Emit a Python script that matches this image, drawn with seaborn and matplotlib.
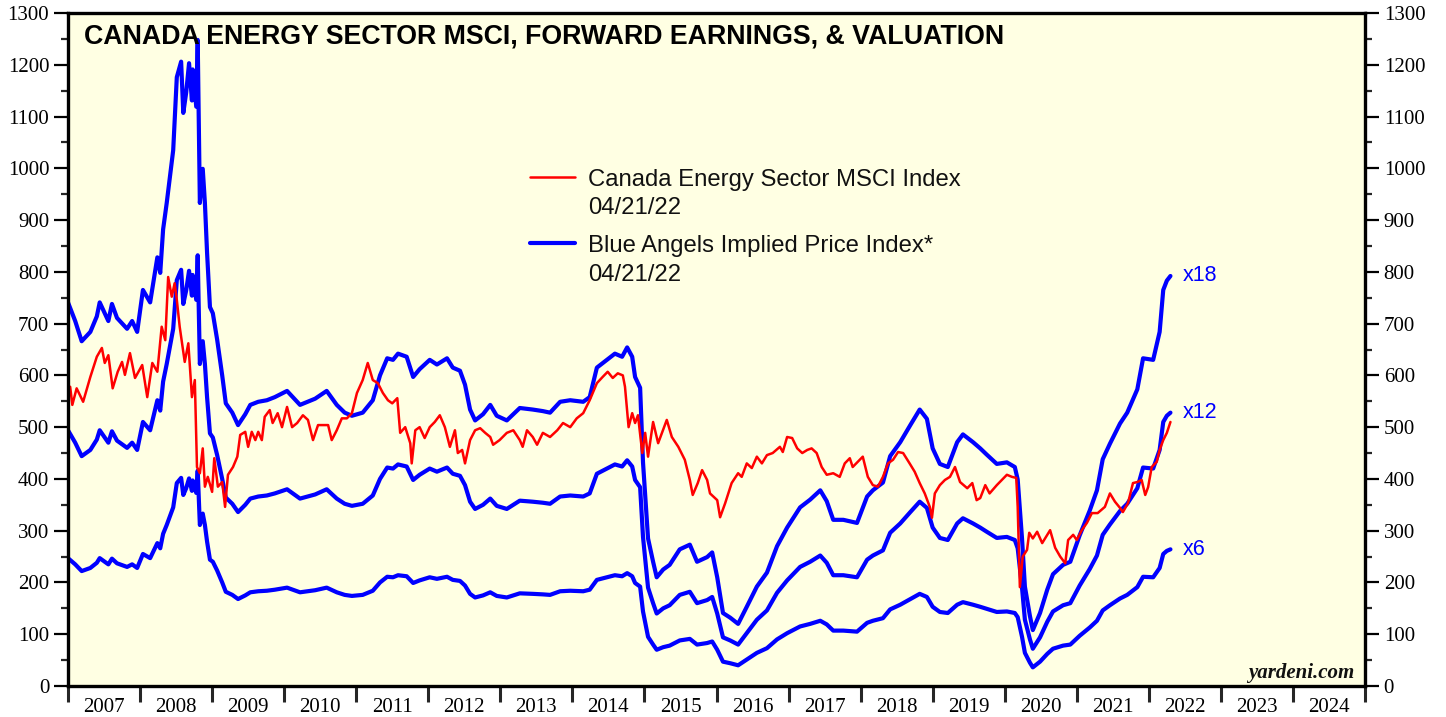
import numpy as np
import pandas as pd
import seaborn as sns
import matplotlib.pyplot as plt
from matplotlib.lines import Line2D

# forward earnings implied price at 6x (the x12 and x18 lines are 2x and 3x of it)
blue_years = [
    2007.00, 2007.10, 2007.19, 2007.31, 2007.40, 2007.44, 2007.51, 2007.56, 2007.61, 2007.68,
    2007.72, 2007.82, 2007.89, 2007.96, 2008.04, 2008.14, 2008.24, 2008.28, 2008.32, 2008.37,
    2008.42, 2008.46, 2008.51, 2008.57, 2008.60, 2008.64, 2008.68, 2008.72, 2008.73, 2008.78,
    2008.80, 2008.83, 2008.87, 2008.90, 2008.93, 2008.97, 2009.01, 2009.07, 2009.14, 2009.19,
    2009.28, 2009.36, 2009.46, 2009.53, 2009.64, 2009.76, 2009.87, 2010.04, 2010.22, 2010.43,
    2010.59, 2010.73, 2010.84, 2010.94, 2011.09, 2011.23, 2011.33, 2011.43, 2011.51, 2011.58,
    2011.70, 2011.79, 2011.88, 2012.02, 2012.12, 2012.26, 2012.34, 2012.44, 2012.51, 2012.58,
    2012.65, 2012.76, 2012.86, 2012.95, 2013.09, 2013.27, 2013.45, 2013.59, 2013.69, 2013.83,
    2013.97, 2014.15, 2014.24, 2014.34, 2014.48, 2014.59, 2014.69, 2014.76, 2014.83, 2014.87,
    2014.94, 2014.98, 2015.05, 2015.12, 2015.17, 2015.26, 2015.35, 2015.49, 2015.63, 2015.73,
    2015.87, 2015.94, 2016.01, 2016.09, 2016.19, 2016.30, 2016.42, 2016.56, 2016.70, 2016.84,
    2016.98, 2017.16, 2017.30, 2017.44, 2017.53, 2017.62, 2017.76, 2017.95, 2018.09, 2018.17,
    2018.31, 2018.41, 2018.55, 2018.69, 2018.82, 2018.92, 2019.00, 2019.10, 2019.21, 2019.34,
    2019.42, 2019.56, 2019.66, 2019.75, 2019.89, 2020.03, 2020.14, 2020.18, 2020.24, 2020.28,
    2020.35, 2020.39, 2020.49, 2020.59, 2020.67, 2020.81, 2020.91, 2021.04, 2021.18, 2021.28,
    2021.36, 2021.46, 2021.60, 2021.70, 2021.84, 2021.92, 2022.06, 2022.15, 2022.20, 2022.25,
    2022.30,
]
blue_x6 = [
    247, 235, 222, 228, 238, 247, 240, 235, 246, 237,
    235, 230, 235, 228, 255, 247, 276, 266, 294, 311,
    330, 345, 392, 402, 369, 382, 401, 377, 397, 373,
    416, 311, 333, 311, 279, 244, 240, 223, 200, 182,
    176, 168, 175, 181, 183, 184, 186, 190, 181, 185,
    190, 181, 176, 174, 176, 184, 200, 211, 210, 214,
    212, 199, 204, 210, 207, 211, 205, 203, 194, 178,
    171, 175, 181, 174, 171, 179, 178, 177, 176, 183,
    184, 183, 186, 205, 210, 214, 212, 218, 212, 199,
    192, 144, 95, 80, 70, 75, 78, 88, 91, 80,
    83, 86, 70, 47, 44, 40, 51, 64, 73, 90,
    102, 115, 120, 126, 119, 107, 107, 105, 122, 126,
    131, 148, 157, 168, 178, 172, 153, 143, 141, 157,
    162, 157, 153, 149, 143, 144, 141, 133, 95, 64,
    45, 36, 47, 62, 72, 78, 80, 97, 113, 126,
    146, 156, 169, 176, 191, 211, 210, 228, 255, 261,
    264,
]
multiples = [6, 12, 18]

# Canada Energy Sector MSCI index
red_years = [
    2007.03, 2007.06, 2007.12, 2007.21, 2007.31, 2007.40, 2007.47, 2007.51, 2007.56, 2007.62,
    2007.69, 2007.75, 2007.79, 2007.86, 2007.93, 2008.03, 2008.10, 2008.17, 2008.24, 2008.30,
    2008.35, 2008.39, 2008.44, 2008.48, 2008.51, 2008.55, 2008.62, 2008.67, 2008.72, 2008.76,
    2008.79, 2008.83, 2008.87, 2008.90, 2008.94, 2009.00, 2009.03, 2009.08, 2009.14, 2009.18,
    2009.22, 2009.29, 2009.35, 2009.39, 2009.46, 2009.50, 2009.55, 2009.60, 2009.64, 2009.69,
    2009.73, 2009.80, 2009.84, 2009.91, 2009.97, 2010.04, 2010.11, 2010.18, 2010.26, 2010.33,
    2010.40, 2010.47, 2010.54, 2010.61, 2010.66, 2010.73, 2010.80, 2010.87, 2010.94, 2011.01,
    2011.09, 2011.16, 2011.23, 2011.30, 2011.37, 2011.44, 2011.50, 2011.57, 2011.61, 2011.68,
    2011.75, 2011.77, 2011.82, 2011.88, 2011.95, 2012.02, 2012.09, 2012.16, 2012.23, 2012.30,
    2012.37, 2012.41, 2012.47, 2012.51, 2012.58, 2012.65, 2012.72, 2012.79, 2012.86, 2012.90,
    2012.99, 2013.09, 2013.18, 2013.27, 2013.31, 2013.37, 2013.45, 2013.51, 2013.59, 2013.69,
    2013.79, 2013.87, 2013.97, 2014.06, 2014.15, 2014.24, 2014.34, 2014.42, 2014.49, 2014.56,
    2014.63, 2014.70, 2014.73, 2014.78, 2014.83, 2014.87, 2014.91, 2014.97, 2015.01, 2015.05,
    2015.12, 2015.19, 2015.31, 2015.38, 2015.47, 2015.56, 2015.63, 2015.67, 2015.74, 2015.80,
    2015.87, 2015.91, 2016.01, 2016.05, 2016.12, 2016.21, 2016.30, 2016.35, 2016.42, 2016.49,
    2016.56, 2016.63, 2016.70, 2016.78, 2016.88, 2016.92, 2016.98, 2017.05, 2017.12, 2017.19,
    2017.26, 2017.32, 2017.39, 2017.46, 2017.53, 2017.62, 2017.71, 2017.78, 2017.85, 2017.89,
    2017.96, 2018.03, 2018.10, 2018.17, 2018.24, 2018.31, 2018.38, 2018.45, 2018.52, 2018.59,
    2018.68, 2018.75, 2018.82, 2018.89, 2018.96, 2018.99, 2019.03, 2019.10, 2019.17, 2019.24,
    2019.31, 2019.38, 2019.48, 2019.55, 2019.61, 2019.66, 2019.73, 2019.79, 2019.89, 2019.96,
    2020.03, 2020.10, 2020.16, 2020.18, 2020.21, 2020.25, 2020.31, 2020.34, 2020.39, 2020.45,
    2020.52, 2020.56, 2020.63, 2020.70, 2020.77, 2020.84, 2020.88, 2020.95, 2021.00, 2021.07,
    2021.14, 2021.21, 2021.29, 2021.39, 2021.46, 2021.53, 2021.60, 2021.64, 2021.71, 2021.78,
    2021.84, 2021.90, 2021.95, 2021.99, 2022.04, 2022.11, 2022.15, 2022.20, 2022.25, 2022.30,
]
red_index = [
    578, 543, 575, 549, 597, 636, 653, 624, 639, 575,
    607, 626, 601, 643, 595, 620, 558, 624, 607, 694,
    668, 790, 752, 778, 746, 694, 626, 662, 558, 591,
    423, 411, 459, 385, 404, 375, 440, 385, 394, 346,
    408, 423, 443, 485, 491, 462, 491, 475, 491, 475,
    520, 533, 508, 527, 500, 539, 500, 508, 523, 514,
    475, 504, 504, 504, 475, 494, 517, 517, 527, 566,
    591, 624, 591, 585, 566, 552, 546, 556, 489, 500,
    469, 430, 494, 500, 479, 500, 510, 523, 500, 462,
    494, 450, 456, 430, 475, 494, 498, 489, 481, 466,
    475, 489, 494, 475, 462, 494, 481, 466, 489, 481,
    494, 508, 500, 517, 527, 552, 585, 597, 607, 595,
    604, 600, 578, 500, 527, 508, 523, 450, 489, 443,
    510, 469, 514, 481, 462, 437, 398, 369, 392, 417,
    398, 372, 359, 326, 353, 392, 411, 404, 430, 421,
    443, 430, 446, 450, 462, 452, 481, 479, 459, 450,
    456, 459, 450, 423, 408, 411, 404, 430, 440, 423,
    433, 443, 404, 388, 385, 404, 430, 437, 452, 450,
    430, 414, 392, 372, 346, 325, 372, 388, 398, 404,
    423, 394, 382, 392, 359, 363, 388, 372, 388, 398,
    408, 404, 402, 346, 191, 250, 263, 296, 285, 298,
    276, 285, 301, 267, 250, 237, 282, 292, 282, 301,
    315, 334, 334, 346, 372, 356, 344, 336, 353, 392,
    394, 398, 369, 384, 423, 433, 456, 475, 489, 510,
]

year_labels = list(range(2007, 2025))
title = "CANADA ENERGY SECTOR MSCI, FORWARD EARNINGS, & VALUATION"
legend_red = ["Canada Energy Sector MSCI Index", "04/21/22"]
legend_blue = ["Blue Angels Implied Price Index*", "04/21/22"]

BLUE = "#0000FF"
RED = "#FF0000"
sans = ['Liberation Sans', 'DejaVu Sans']
serif = ['Liberation Serif', 'DejaVu Serif']

sns.set_theme(style="white")
# tick labels are serif; every other text names the sans family itself
plt.rcParams['font.family'] = serif

blue_df = pd.concat([
    pd.DataFrame({'year': blue_years,
                  'price': np.array(blue_x6) * m / 6,
                  'multiple': m})
    for m in multiples
])
red_df = pd.DataFrame({'year': red_years, 'index': red_index})

fig = plt.figure(figsize=(14.46, 7.17), dpi=100)
ax = fig.add_axes([68 / 1446, 31 / 717, 1297 / 1446, 673 / 717])
ax.set_facecolor('#FFFFE3')

sns.lineplot(data=blue_df, x='year', y='price', units='multiple', estimator=None,
             color=BLUE, lw=3.0, sort=False, legend=False, ax=ax)
sns.lineplot(data=red_df, x='year', y='index', color=RED, lw=1.8,
             sort=False, legend=False, ax=ax)

ax.set_xlim(2007, 2025)
ax.set_ylim(0, 1300)
ax.set_xlabel('')
ax.set_ylabel('')

# frame
for side in ['left', 'right', 'bottom', 'top']:
    ax.spines[side].set_visible(True)
    ax.spines[side].set_color('black')
    ax.spines[side].set_linewidth(2.4)

# y axis on both sides
ax.set_yticks(np.arange(0, 1301, 100))
ax.set_yticks(np.arange(50, 1300, 100), minor=True)
ax.tick_params(axis='y', which='major', direction='out', length=10, width=1.6,
               left=True, right=True, labelleft=True, labelright=True,
               pad=3.5, labelsize=15, colors='black')
ax.tick_params(axis='y', which='minor', direction='out', length=5, width=1.6,
               left=True, right=True)

# x axis: tick marks at year boundaries, labels centred in each year
ax.set_xticks(np.arange(2007, 2026))
ax.set_xticklabels([])
ax.set_xticks(np.array(year_labels) + 0.5, minor=True)
ax.set_xticklabels([str(y) for y in year_labels], minor=True)
ax.tick_params(axis='x', which='major', direction='out', length=11.5, width=2.2,
               bottom=True)
ax.tick_params(axis='x', which='minor', length=0, pad=8.5, labelsize=15,
               colors='black')

ax.grid(False)

# title
ax.text(0.0123, 0.9554, title, transform=ax.transAxes, fontsize=19.3,
        fontweight='bold', family=sans, va='baseline', ha='left', color='black')

# legend drawn by hand
ax.add_line(Line2D([0.356, 0.391], [0.757, 0.757], transform=ax.transAxes,
                   color=RED, lw=1.8))
ax.add_line(Line2D([0.356, 0.391], [0.658, 0.658], transform=ax.transAxes,
                   color=BLUE, lw=3.0))
for txt, yy in zip(legend_red + legend_blue, [0.743, 0.701, 0.645, 0.602]):
    ax.text(0.401, yy, txt, transform=ax.transAxes, fontsize=17.2, family=sans,
            va='baseline', ha='left', color='#111111')

# multiple labels at the end of each blue line
last_x6 = blue_x6[-1]
for m in multiples:
    ax.text(2022.47, last_x6 * m / 6, f"x{m}", fontsize=15.5, color=BLUE,
            family=sans, va='center', ha='left')

ax.text(0.992, 0.012, "yardeni.com", transform=ax.transAxes, fontsize=15,
        fontweight='bold', fontstyle='italic',
        ha='right', va='baseline', color='#111111')

fig.savefig('out.png', dpi=100, facecolor='white')
